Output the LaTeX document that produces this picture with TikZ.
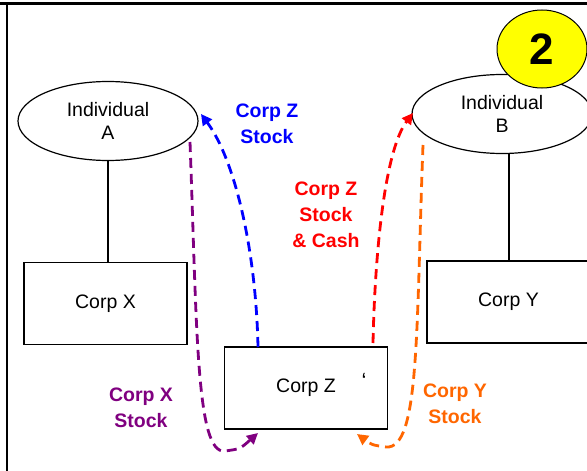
\documentclass[tikz,border=0pt]{standalone}
\usepackage{fontspec}
\setmainfont{Liberation Sans}
\usetikzlibrary{shapes.geometric,arrows.meta}
\definecolor{zblue}{RGB}{0,0,255}
\definecolor{zred}{RGB}{255,0,0}
\definecolor{zpurple}{RGB}{128,0,128}
\definecolor{zorange}{RGB}{255,102,0}
\definecolor{zyellow}{RGB}{255,255,0}
\tikzset{
  box/.style={draw=black,line width=1.2pt,minimum width=163pt,minimum height=82pt,inner sep=0pt,font=\fontsize{19.5}{23}\selectfont},
  person/.style={draw=black,line width=1.2pt,ellipse,minimum width=180pt,minimum height=79pt,inner sep=0pt,align=center,font=\fontsize{19.5}{23}\selectfont},
  flow/.style={dashed,dash pattern=on 10pt off 6pt,line width=2.8pt,-{Triangle[length=11pt,width=11pt]}},
  lab/.style={align=center,font=\fontsize{19.5}{26}\selectfont\bfseries},
  tie/.style={draw=black,line width=1.2pt}
}
\begin{document}
\begin{tikzpicture}[x=1pt,y=-1pt]
\useasboundingbox (0,0) rectangle (587,471);
\clip (0,0) rectangle (587,471);
\fill[white] (0,0) rectangle (587,471);
% frame lines
\draw[line width=3pt] (0,3) -- (587,3);
\draw[line width=2pt] (7,3) -- (7,471);
% nodes
\node[person] (A) at (108,121) {Individual\\A};
\node[person] (B) at (502,114) {Individual\\B};
\node[box] (X) at (105.5,303.5) {Corp X};
\node[box] (Y) at (508.5,302) {Corp Y};
\node[box] (Z) at (306,388) {Corp Z};
\node[font=\fontsize{22}{22}\selectfont] (tick) at (364,381) {\symbol{"0060}};
% yellow badge
\node[draw=black,line width=1pt,fill=zyellow,ellipse,minimum width=90pt,minimum height=78pt,inner sep=0pt,font=\fontsize{44}{44}\selectfont\bfseries] (badge) at (542,49) {2};
% ties
\draw[tie] (A.south) -- (A.south |- X.north);
\draw[tie] (509,153) -- (509,261);
% connector end points
\coordinate (bS) at (258,347);
\coordinate (bE) at (201,114);
\coordinate (rS) at (373,343);
\coordinate (rE) at (413,113);
\coordinate (pS) at (190,142);
\coordinate (pM) at (225,451);
\coordinate (pE) at (258,433);
\coordinate (oS) at (423,145);
\coordinate (oM) at (386,447);
\coordinate (oE) at (357,434);
% flows
\draw[flow,zblue] (bS) .. controls (256,250) and (235,160) .. (bE);
\draw[flow,zred] (rS) .. controls (375,250) and (385,150) .. (rE);
\draw[flow,zpurple] (pS) .. controls (197,330) and (196,455) .. (pM) .. controls (240,449) .. (pE);
\draw[flow,zorange] (oS) .. controls (416,330) and (420,450) .. (oM) .. controls (372,445) .. (oE);
% labels
\node[lab,text=zblue] (lb) at (267,124) {Corp Z\\Stock};
\node[lab,text=zred] (lr) at (326,215) {Corp Z\\Stock\\\& Cash};
\node[lab,text=zpurple] (lp) at (141,408) {Corp X\\Stock};
\node[lab,text=zorange] (lo) at (455,404) {Corp Y\\Stock};
\end{tikzpicture}
\end{document}
